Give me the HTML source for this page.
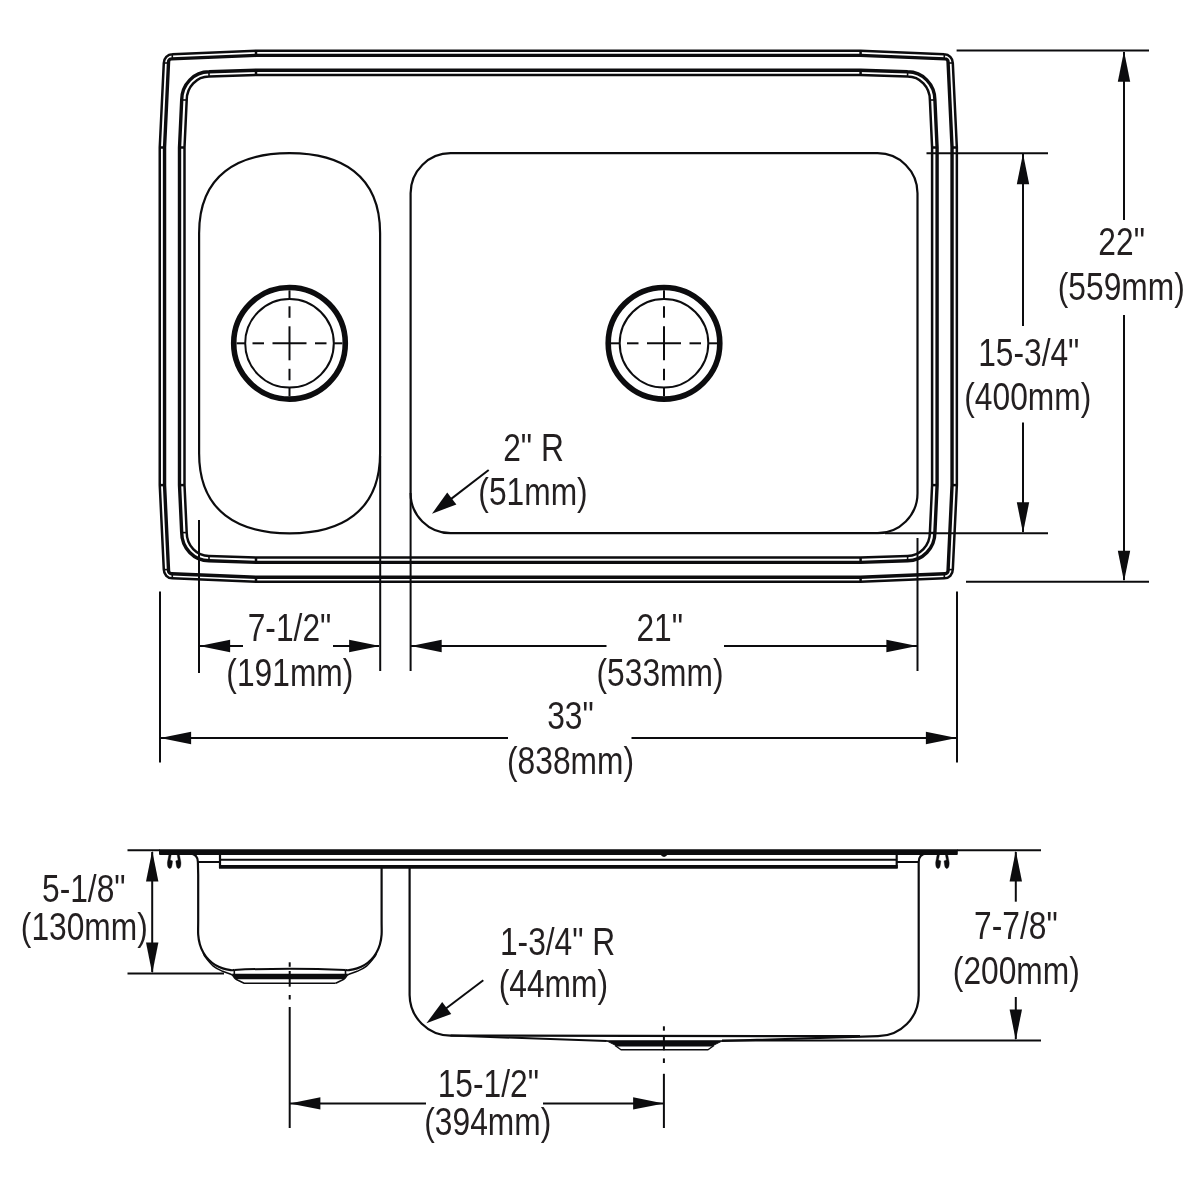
<!DOCTYPE html>
<html><head><meta charset="utf-8"><title>Sink drawing</title>
<style>
html,body{margin:0;padding:0;background:#fff;}
body{width:1200px;height:1200px;overflow:hidden;}
svg{display:block;will-change:transform;}
text{font-family:"Liberation Sans",sans-serif;}
</style></head>
<body>
<svg width="1200" height="1200" viewBox="0 0 1200 1200" fill="none" stroke="#0c0c0e" stroke-linecap="butt" stroke-linejoin="round">
<rect x="0" y="0" width="1200" height="1200" fill="#fff" stroke="none"/>
<path d="M159.75,316.30 L159.75,147.50 L163.80,63.00 A8.50,8.70 0 0 1 172.30,54.30 L256.00,50.75 L558.30,50.75 L860.60,50.75 L944.30,54.30 A8.50,8.70 0 0 1 952.80,63.00 L956.85,147.50 L956.85,316.30 L956.85,485.10 L952.80,569.60 A8.50,8.70 0 0 1 944.30,578.30 L860.60,581.85 L558.30,581.85 L256.00,581.85 L172.30,578.30 A8.50,8.70 0 0 1 163.80,569.60 L159.75,485.10 L159.75,316.30 Z" stroke-width="2.5" />
<path d="M164.55,316.30 L164.55,147.50 L168.55,61.80 A3.05,2.90 0 0 1 171.60,58.90 L256.00,55.40 L558.30,55.40 L860.60,55.40 L945.00,58.90 A3.05,2.90 0 0 1 948.05,61.80 L952.05,147.50 L952.05,316.30 L952.05,485.10 L948.05,570.80 A3.05,2.90 0 0 1 945.00,573.70 L860.60,577.20 L558.30,577.20 L256.00,577.20 L171.60,573.70 A3.05,2.90 0 0 1 168.55,570.80 L164.55,485.10 L164.55,316.30 Z" stroke-width="3.4" />
<path d="M179.50,316.30 L179.50,147.50 L181.70,100.00 A27.30,28.20 0 0 1 209.00,71.80 L256.00,70.25 L558.30,70.25 L860.60,70.25 L907.60,71.80 A27.30,28.20 0 0 1 934.90,100.00 L937.10,147.50 L937.10,316.30 L937.10,485.10 L934.90,532.60 A27.30,28.20 0 0 1 907.60,560.80 L860.60,562.35 L558.30,562.35 L256.00,562.35 L209.00,560.80 A27.30,28.20 0 0 1 181.70,532.60 L179.50,485.10 L179.50,316.30 Z" stroke-width="3.4" />
<path d="M184.50,316.30 L184.50,147.50 L186.70,100.00 A22.30,23.50 0 0 1 209.00,76.50 L256.00,75.00 L558.30,75.00 L860.60,75.00 L907.60,76.50 A22.30,23.50 0 0 1 929.90,100.00 L932.10,147.50 L932.10,316.30 L932.10,485.10 L929.90,532.60 A22.30,23.50 0 0 1 907.60,556.10 L860.60,557.60 L558.30,557.60 L256.00,557.60 L209.00,556.10 A22.30,23.50 0 0 1 186.70,532.60 L184.50,485.10 L184.50,316.30 Z" stroke-width="2.5" />
<line x1="256" y1="50.75" x2="256" y2="55.4" stroke-width="2.5" />
<line x1="256" y1="581.85" x2="256" y2="577.2" stroke-width="2.5" />
<line x1="860.6" y1="50.75" x2="860.6" y2="55.4" stroke-width="2.5" />
<line x1="860.6" y1="581.85" x2="860.6" y2="577.2" stroke-width="2.5" />
<line x1="256" y1="70.25" x2="256" y2="75" stroke-width="2.5" />
<line x1="256" y1="562.35" x2="256" y2="557.6" stroke-width="2.5" />
<line x1="860.6" y1="70.25" x2="860.6" y2="75" stroke-width="2.5" />
<line x1="860.6" y1="562.35" x2="860.6" y2="557.6" stroke-width="2.5" />
<line x1="159.75" y1="147.5" x2="164.55" y2="147.5" stroke-width="2.5" />
<line x1="159.75" y1="485.1" x2="164.55" y2="485.1" stroke-width="2.5" />
<line x1="956.85" y1="147.5" x2="952.05" y2="147.5" stroke-width="2.5" />
<line x1="956.85" y1="485.1" x2="952.05" y2="485.1" stroke-width="2.5" />
<line x1="179.5" y1="147.5" x2="184.5" y2="147.5" stroke-width="2.5" />
<line x1="179.5" y1="485.1" x2="184.5" y2="485.1" stroke-width="2.5" />
<line x1="937.1" y1="147.5" x2="932.1" y2="147.5" stroke-width="2.5" />
<line x1="937.1" y1="485.1" x2="932.1" y2="485.1" stroke-width="2.5" />
<line x1="163.8" y1="63" x2="168.5" y2="63" stroke-width="1.6" />
<line x1="163.8" y1="569.6" x2="168.5" y2="569.6" stroke-width="1.6" />
<line x1="952.8" y1="63" x2="948.1" y2="63" stroke-width="1.6" />
<line x1="952.8" y1="569.6" x2="948.1" y2="569.6" stroke-width="1.6" />
<line x1="172.3" y1="54.3" x2="172.3" y2="58.9" stroke-width="1.6" />
<line x1="172.3" y1="578.3" x2="172.3" y2="573.7" stroke-width="1.6" />
<line x1="944.3" y1="54.3" x2="944.3" y2="58.9" stroke-width="1.6" />
<line x1="944.3" y1="578.3" x2="944.3" y2="573.7" stroke-width="1.6" />
<line x1="181.7" y1="100" x2="186.7" y2="100" stroke-width="1.6" />
<line x1="181.7" y1="532.6" x2="186.7" y2="532.6" stroke-width="1.6" />
<line x1="934.9" y1="100" x2="929.9" y2="100" stroke-width="1.6" />
<line x1="934.9" y1="532.6" x2="929.9" y2="532.6" stroke-width="1.6" />
<line x1="209" y1="71.8" x2="209" y2="76.5" stroke-width="1.6" />
<line x1="209" y1="560.8" x2="209" y2="556.1" stroke-width="1.6" />
<line x1="907.6" y1="71.8" x2="907.6" y2="76.5" stroke-width="1.6" />
<line x1="907.6" y1="560.8" x2="907.6" y2="556.1" stroke-width="1.6" />
<path d="M199.1,233.3 C199.1,174.4 238.90000000000003,153.2 289.6,153.2 C340.3,153.2 380.1,174.4 380.1,233.3 L380.1,453.19999999999993 C380.1,512.0999999999999 340.3,533.3 289.6,533.3 C238.90000000000003,533.3 199.1,512.0999999999999 199.1,453.19999999999993 Z" stroke-width="2.2" />
<path d="M410.6,193.2 A40,40 0 0 1 450.6,153.2 L877.5,153.2 A40,40 0 0 1 917.5,193.2 L917.5,493.2 A40,40 0 0 1 877.5,533.2 L450.6,533.2 A40,40 0 0 1 410.6,493.2 Z" stroke-width="2.2" />
<circle cx="289.5" cy="343.3" r="55.8" stroke-width="5.6"/>
<circle cx="289.5" cy="343.3" r="44.3" stroke-width="2.0"/>
<line x1="289.5" y1="290.3" x2="289.5" y2="298.7" stroke-width="2.0" />
<line x1="289.5" y1="387.90000000000003" x2="289.5" y2="396.3" stroke-width="2.0" />
<line x1="236.5" y1="343.3" x2="244.9" y2="343.3" stroke-width="2.0" />
<line x1="334.1" y1="343.3" x2="342.5" y2="343.3" stroke-width="2.0" />
<line x1="252.5" y1="343.3" x2="264.0" y2="343.3" stroke-width="2.0" />
<line x1="289.5" y1="306.3" x2="289.5" y2="317.8" stroke-width="2.0" />
<line x1="272.5" y1="343.3" x2="306.5" y2="343.3" stroke-width="2.0" />
<line x1="289.5" y1="326.3" x2="289.5" y2="360.3" stroke-width="2.0" />
<line x1="315.0" y1="343.3" x2="326.5" y2="343.3" stroke-width="2.0" />
<line x1="289.5" y1="368.8" x2="289.5" y2="380.3" stroke-width="2.0" />
<circle cx="664" cy="343.3" r="55.8" stroke-width="5.6"/>
<circle cx="664" cy="343.3" r="44.3" stroke-width="2.0"/>
<line x1="664" y1="290.3" x2="664" y2="298.7" stroke-width="2.0" />
<line x1="664" y1="387.90000000000003" x2="664" y2="396.3" stroke-width="2.0" />
<line x1="611" y1="343.3" x2="619.4" y2="343.3" stroke-width="2.0" />
<line x1="708.6" y1="343.3" x2="717" y2="343.3" stroke-width="2.0" />
<line x1="627" y1="343.3" x2="638.5" y2="343.3" stroke-width="2.0" />
<line x1="664" y1="306.3" x2="664" y2="317.8" stroke-width="2.0" />
<line x1="647" y1="343.3" x2="681" y2="343.3" stroke-width="2.0" />
<line x1="664" y1="326.3" x2="664" y2="360.3" stroke-width="2.0" />
<line x1="689.5" y1="343.3" x2="701" y2="343.3" stroke-width="2.0" />
<line x1="664" y1="368.8" x2="664" y2="380.3" stroke-width="2.0" />
<line x1="380.2" y1="456" x2="380.2" y2="671" stroke-width="2.0" />
<line x1="410.6" y1="493" x2="410.6" y2="671" stroke-width="2.0" />
<line x1="199" y1="520" x2="199" y2="673" stroke-width="2.0" />
<line x1="917.5" y1="538" x2="917.5" y2="671" stroke-width="2.0" />
<line x1="160" y1="591.5" x2="160" y2="762.5" stroke-width="2.0" />
<line x1="957" y1="591.5" x2="957" y2="762.5" stroke-width="2.0" />
<line x1="956.6" y1="50.6" x2="1149" y2="50.6" stroke-width="2.0" />
<line x1="966" y1="581.8" x2="1149" y2="581.8" stroke-width="2.0" />
<line x1="926.5" y1="153.2" x2="1048" y2="153.2" stroke-width="2.0" />
<line x1="885" y1="533.2" x2="1048" y2="533.2" stroke-width="2.0" />
<line x1="1124" y1="52" x2="1124" y2="220" stroke-width="2.0" />
<line x1="1124" y1="315" x2="1124" y2="580" stroke-width="2.0" />
<polygon points="1124.00,51.00 1130.20,81.80 1117.80,81.80" fill="#0c0c0e" stroke="none"/>
<polygon points="1124.00,581.50 1117.80,550.70 1130.20,550.70" fill="#0c0c0e" stroke="none"/>
<line x1="1023" y1="154" x2="1023" y2="326" stroke-width="2.0" />
<line x1="1023" y1="422.5" x2="1023" y2="532" stroke-width="2.0" />
<polygon points="1023.00,153.50 1029.20,184.30 1016.80,184.30" fill="#0c0c0e" stroke="none"/>
<polygon points="1023.00,533.00 1016.80,502.20 1029.20,502.20" fill="#0c0c0e" stroke="none"/>
<line x1="200" y1="646" x2="243" y2="646" stroke-width="2.0" />
<line x1="333" y1="646" x2="379" y2="646" stroke-width="2.0" />
<polygon points="199.30,646.00 230.10,639.80 230.10,652.20" fill="#0c0c0e" stroke="none"/>
<polygon points="379.90,646.00 349.10,652.20 349.10,639.80" fill="#0c0c0e" stroke="none"/>
<line x1="411" y1="646" x2="606.5" y2="646" stroke-width="2.0" />
<line x1="724" y1="646" x2="917" y2="646" stroke-width="2.0" />
<polygon points="410.90,646.00 441.70,639.80 441.70,652.20" fill="#0c0c0e" stroke="none"/>
<polygon points="917.20,646.00 886.40,652.20 886.40,639.80" fill="#0c0c0e" stroke="none"/>
<line x1="161" y1="738" x2="508" y2="738" stroke-width="2.0" />
<line x1="631.5" y1="738" x2="956" y2="738" stroke-width="2.0" />
<polygon points="160.30,738.00 191.10,731.80 191.10,744.20" fill="#0c0c0e" stroke="none"/>
<polygon points="956.70,738.00 925.90,744.20 925.90,731.80" fill="#0c0c0e" stroke="none"/>
<line x1="488.7" y1="470" x2="445" y2="503.6" stroke-width="2.0" />
<polygon points="432.00,513.70 447.22,492.50 456.38,504.38" fill="#0c0c0e" stroke="none"/>
<text transform="translate(1121.65,255.00) scale(0.814,1)" text-anchor="middle" font-size="39" fill="#231f20" stroke="none">22&quot;</text>
<text transform="translate(1121.25,300.00) scale(0.814,1)" text-anchor="middle" font-size="39" fill="#231f20" stroke="none">(559mm)</text>
<text transform="translate(1028.75,366.30) scale(0.814,1)" text-anchor="middle" font-size="39" fill="#231f20" stroke="none">15-3/4&quot;</text>
<text transform="translate(1027.75,410.00) scale(0.814,1)" text-anchor="middle" font-size="39" fill="#231f20" stroke="none">(400mm)</text>
<text transform="translate(533.55,460.60) scale(0.814,1)" text-anchor="middle" font-size="39" fill="#231f20" stroke="none">2&quot; R</text>
<text transform="translate(533.00,505.40) scale(0.814,1)" text-anchor="middle" font-size="39" fill="#231f20" stroke="none">(51mm)</text>
<text transform="translate(289.50,641.00) scale(0.814,1)" text-anchor="middle" font-size="39" fill="#231f20" stroke="none">7-1/2&quot;</text>
<text transform="translate(289.85,686.00) scale(0.814,1)" text-anchor="middle" font-size="39" fill="#231f20" stroke="none">(191mm)</text>
<text transform="translate(659.75,641.00) scale(0.814,1)" text-anchor="middle" font-size="39" fill="#231f20" stroke="none">21&quot;</text>
<text transform="translate(660.00,686.00) scale(0.814,1)" text-anchor="middle" font-size="39" fill="#231f20" stroke="none">(533mm)</text>
<text transform="translate(570.50,728.50) scale(0.814,1)" text-anchor="middle" font-size="39" fill="#231f20" stroke="none">33&quot;</text>
<text transform="translate(570.50,774.00) scale(0.814,1)" text-anchor="middle" font-size="39" fill="#231f20" stroke="none">(838mm)</text>
<line x1="127.5" y1="850.2" x2="160" y2="850.2" stroke-width="2.0" />
<line x1="957" y1="850.2" x2="1041" y2="850.2" stroke-width="2.0" />
<line x1="127.5" y1="973.6" x2="224" y2="973.6" stroke-width="2.0" />
<line x1="722" y1="1040.6" x2="1041" y2="1040.6" stroke-width="2.0" />
<rect x="159" y="849.3" width="798.8" height="5.8" rx="1" fill="#0c0c0e" stroke="none"/>
<line x1="220" y1="859.8" x2="896.7" y2="859.8" stroke-width="2.1" />
<line x1="219" y1="866.9" x2="897.7" y2="866.9" stroke-width="3.6" />
<line x1="220" y1="855" x2="220" y2="868" stroke-width="2.2" />
<line x1="896.7" y1="855" x2="896.7" y2="868" stroke-width="2.2" />
<line x1="198" y1="862" x2="220" y2="862" stroke-width="2.0" />
<line x1="896.7" y1="862" x2="918.7" y2="862" stroke-width="2.0" />
<path d="M190,853.5 Q197.9,854.3 197.9,862 L198.2,875" stroke-width="2.2" />
<path d="M198.20,875.00 C198.20,882.50 198.20,910.07 198.20,920.00 C198.20,929.93 197.92,930.52 198.20,934.60 C198.48,938.68 199.03,941.48 199.90,944.50 C200.77,947.52 201.93,950.17 203.40,952.70 C204.87,955.23 206.75,957.67 208.70,959.70 C210.65,961.73 212.77,963.45 215.10,964.90 C217.43,966.35 220.08,967.52 222.70,968.40 C225.32,969.28 228.87,969.95 230.80,970.20 C232.73,970.45 233.72,969.95 234.30,969.90" stroke-width="2.2" />
<path d="M381.59999999999997,868 L381.59999999999997,875" stroke-width="2.2" />
<path d="M381.60,875.00 C381.60,882.50 381.60,910.07 381.60,920.00 C381.60,929.93 381.88,930.52 381.60,934.60 C381.32,938.68 380.77,941.48 379.90,944.50 C379.03,947.52 377.87,950.17 376.40,952.70 C374.93,955.23 373.05,957.67 371.10,959.70 C369.15,961.73 367.03,963.45 364.70,964.90 C362.37,966.35 359.72,967.52 357.10,968.40 C354.48,969.28 350.93,969.95 349.00,970.20 C347.07,970.45 346.08,969.95 345.50,969.90" stroke-width="2.2" />
<path d="M203.40,952.70 C203.63,953.32 203.15,954.17 204.80,956.40 C206.45,958.63 210.32,963.62 213.30,966.10 C216.28,968.58 219.58,969.85 222.70,971.30 C225.82,972.75 229.87,973.53 232.00,974.80 C234.13,976.07 233.45,977.48 235.50,978.90 C237.55,980.32 242.83,982.57 244.30,983.30 L335.49999999999994,983.3" stroke-width="1.5" />
<path d="M376.40,952.70 C376.17,953.32 376.65,954.17 375.00,956.40 C373.35,958.63 369.48,963.62 366.50,966.10 C363.52,968.58 360.22,969.85 357.10,971.30 C353.98,972.75 349.93,973.53 347.80,974.80 C345.67,976.07 346.35,977.48 344.30,978.90 C342.25,980.32 336.97,982.57 335.50,983.30" stroke-width="1.5" />
<path d="M234.3,969.9 Q289.9,967.4 345.49999999999994,969.9" stroke-width="2.0" />
<line x1="234.3" y1="969.9" x2="234.3" y2="975" stroke-width="1.6" />
<line x1="345.49999999999994" y1="969.9" x2="345.49999999999994" y2="975" stroke-width="1.6" />
<path d="M231.6,973.8 L348.19999999999993,973.8 L343.79999999999995,979.3 L236,979.3 Z" fill="#0c0c0e" stroke="none"/>
<path d="M409.6,868 L409.6,995 A41,41 0 0 0 450.6,1035.6 L860,1036.2" stroke-width="2.2" />
<path d="M926.5,853.5 Q918.7,854.3 918.7,862 L918.7,995 A41,41 0 0 1 878,1036.2 L722,1041" stroke-width="2.2" />
<path d="M450.6,1035.6 L606.8,1041" stroke-width="2.0" />
<path d="M606.5,1040.8 L722.5,1040.8 L712,1046 L617,1046 Z" fill="#0c0c0e" stroke="#0c0c0e" stroke-width="1"/>
<path d="M615,1045.5 L621,1049.8 L708,1049.8 L714,1045.5" stroke-width="1.4" />
<path d="M660.3,854.6 Q664,859.4 667.7,854.6 Z" fill="#0c0c0e" stroke="none"/>
<path d="M168.96,854.50 C168.79,855.36 168.18,858.25 167.92,859.67 C167.66,861.09 167.42,861.82 167.42,863.00 C167.42,864.18 167.56,865.85 167.92,866.75 C168.28,867.65 168.99,868.33 169.58,868.40 C170.17,868.47 171.01,868.07 171.46,867.17 C171.91,866.27 172.12,864.04 172.29,863.00 C172.46,861.96 172.47,861.25 172.50,860.90 L170.20,859.90 L171.25,854.50 Z" fill="#0c0c0e" stroke="#0c0c0e" stroke-width="0.4"/>
<path d="M179.38,854.50 C179.55,855.36 180.16,858.25 180.42,859.67 C180.68,861.09 180.92,861.82 180.92,863.00 C180.92,864.18 180.78,865.85 180.42,866.75 C180.06,867.65 179.35,868.33 178.76,868.40 C178.17,868.47 177.33,868.07 176.88,867.17 C176.43,866.27 176.22,864.04 176.05,863.00 C175.88,861.96 175.87,861.25 175.84,860.90 L178.14,859.90 L177.09,854.50 Z" fill="#0c0c0e" stroke="#0c0c0e" stroke-width="0.4"/>
<path d="M947.64,854.50 C947.81,855.36 948.42,858.25 948.68,859.67 C948.94,861.09 949.18,861.82 949.18,863.00 C949.18,864.18 949.04,865.85 948.68,866.75 C948.32,867.65 947.61,868.33 947.02,868.40 C946.43,868.47 945.59,868.07 945.14,867.17 C944.69,866.27 944.48,864.04 944.31,863.00 C944.14,861.96 944.13,861.25 944.10,860.90 L946.40,859.90 L945.35,854.50 Z" fill="#0c0c0e" stroke="#0c0c0e" stroke-width="0.4"/>
<path d="M937.22,854.50 C937.05,855.36 936.44,858.25 936.18,859.67 C935.92,861.09 935.68,861.82 935.68,863.00 C935.68,864.18 935.82,865.85 936.18,866.75 C936.54,867.65 937.25,868.33 937.84,868.40 C938.43,868.47 939.27,868.07 939.72,867.17 C940.17,866.27 940.38,864.04 940.55,863.00 C940.72,861.96 940.73,861.25 940.76,860.90 L938.46,859.90 L939.51,854.50 Z" fill="#0c0c0e" stroke="#0c0c0e" stroke-width="0.4"/>
<line x1="289.7" y1="962.3" x2="289.7" y2="966.8" stroke-width="2.0" />
<line x1="289.7" y1="971" x2="289.7" y2="986.7" stroke-width="2.0" />
<line x1="289.7" y1="995" x2="289.7" y2="999.5" stroke-width="2.0" />
<line x1="289.7" y1="1007" x2="289.7" y2="1128" stroke-width="2.0" />
<line x1="663.9" y1="1026.3" x2="663.9" y2="1030.7" stroke-width="2.0" />
<line x1="663.9" y1="1037" x2="663.9" y2="1050.3" stroke-width="2.0" />
<line x1="663.9" y1="1058.4" x2="663.9" y2="1063" stroke-width="2.0" />
<line x1="663.9" y1="1073.8" x2="663.9" y2="1128" stroke-width="2.0" />
<line x1="152.2" y1="852" x2="152.2" y2="972" stroke-width="2.0" />
<polygon points="152.20,850.80 158.40,881.60 146.00,881.60" fill="#0c0c0e" stroke="none"/>
<polygon points="152.20,973.40 146.00,942.60 158.40,942.60" fill="#0c0c0e" stroke="none"/>
<line x1="1015.8" y1="852" x2="1015.8" y2="901.7" stroke-width="2.0" />
<line x1="1015.8" y1="997" x2="1015.8" y2="1039" stroke-width="2.0" />
<polygon points="1015.80,850.80 1022.00,881.60 1009.60,881.60" fill="#0c0c0e" stroke="none"/>
<polygon points="1015.80,1040.20 1009.60,1009.40 1022.00,1009.40" fill="#0c0c0e" stroke="none"/>
<line x1="290" y1="1103.4" x2="426" y2="1103.4" stroke-width="2.0" />
<line x1="543" y1="1103.4" x2="663" y2="1103.4" stroke-width="2.0" />
<polygon points="289.60,1103.40 320.40,1097.20 320.40,1109.60" fill="#0c0c0e" stroke="none"/>
<polygon points="663.90,1103.40 633.10,1109.60 633.10,1097.20" fill="#0c0c0e" stroke="none"/>
<line x1="483.3" y1="980.2" x2="440" y2="1013" stroke-width="2.0" />
<polygon points="426.40,1023.30 442.20,1001.92 451.26,1013.88" fill="#0c0c0e" stroke="none"/>
<text transform="translate(83.80,902.40) scale(0.814,1)" text-anchor="middle" font-size="39" fill="#231f20" stroke="none">5-1/8&quot;</text>
<text transform="translate(84.30,940.00) scale(0.814,1)" text-anchor="middle" font-size="39" fill="#231f20" stroke="none">(130mm)</text>
<text transform="translate(557.60,955.20) scale(0.814,1)" text-anchor="middle" font-size="39" fill="#231f20" stroke="none">1-3/4&quot; R</text>
<text transform="translate(553.40,996.60) scale(0.814,1)" text-anchor="middle" font-size="39" fill="#231f20" stroke="none">(44mm)</text>
<text transform="translate(1015.85,938.70) scale(0.814,1)" text-anchor="middle" font-size="39" fill="#231f20" stroke="none">7-7/8&quot;</text>
<text transform="translate(1016.30,984.00) scale(0.814,1)" text-anchor="middle" font-size="39" fill="#231f20" stroke="none">(200mm)</text>
<text transform="translate(488.30,1096.80) scale(0.814,1)" text-anchor="middle" font-size="39" fill="#231f20" stroke="none">15-1/2&quot;</text>
<text transform="translate(487.75,1134.60) scale(0.814,1)" text-anchor="middle" font-size="39" fill="#231f20" stroke="none">(394mm)</text>
</svg>
</body></html>
